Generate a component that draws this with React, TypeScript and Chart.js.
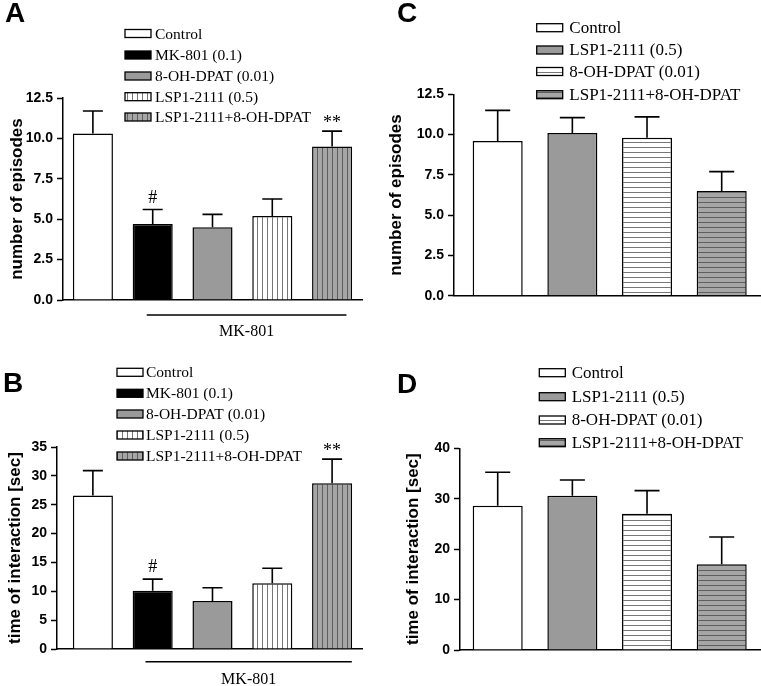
import React, { useEffect, useRef } from "react";
import { Chart, registerables } from "chart.js";

Chart.register(...registerables);

// ---------------- data ----------------
const groupsMK = ["Control", "MK-801 (0.1)", "8-OH-DPAT (0.01)", "LSP1-2111 (0.5)", "LSP1-2111+8-OH-DPAT"];
const groupsLSP = ["Control", "LSP1-2111 (0.5)", "8-OH-DPAT (0.01)", "LSP1-2111+8-OH-DPAT"];

const episodesA = [10.3, 4.7, 4.5, 5.2, 9.5];
const episodesASem = [1.4, 0.9, 0.8, 1.05, 0.95];
const timeB = [26.6, 10.1, 8.3, 11.4, 28.7];
const timeBSem = [4.3, 2.0, 2.3, 2.6, 4.2];
const episodesC = [9.6, 10.1, 9.8, 6.5];
const episodesCSem = [1.9, 0.95, 1.3, 1.2];
const timeD = [28.6, 30.6, 27.0, 17.0];
const timeDSem = [6.65, 3.1, 4.6, 5.4];

const marksMK = ["", "#", "", "", "**"];
const ticksEpisodes = [0, 2.5, 5, 7.5, 10, 12.5];
const ticksTimeB = [0, 5, 10, 15, 20, 25, 30, 35];
const ticksTimeD = [0, 10, 20, 30, 40];
const titleEpisodes = "number of episodes";
const titleTime = "time of interaction [sec]";
const bracketLabel = "MK-801";

// ---------------- layout / styles ----------------
type Panel = {
  letter: string;
  labels: string[];
  means: number[];
  sem: number[];
  marks?: string[];
  ticks: number[];
  decimals: number;
  title: string;
  styles: string[];
  left: number;
  top: number;
  width: number;
  height: number;
  area: { l: number; t: number; r: number; b: number };
  xMin: number;
  xMax: number;
  titleX: number;
  letterPos: [number, number];
  legend: { sx: number; tx: number; rows: number[]; size: number };
  bracket?: { from: number; to: number; y: number; textY: number };
};

const stylesMK = ["white", "black", "gray", "vstripe", "grayvstripe"];
const stylesLSP = ["white", "gray", "hstripe", "grayhstripe"];

const panels: Panel[] = [
  {
    letter: "A", labels: groupsMK, means: episodesA, sem: episodesASem, marks: marksMK,
    ticks: ticksEpisodes, decimals: 1, title: titleEpisodes, styles: stylesMK,
    left: 0, top: 0, width: 380, height: 343,
    area: { l: 63, t: 98, r: 362, b: 300 }, xMin: -0.5, xMax: 4.5,
    titleX: 17, letterPos: [5, 22],
    legend: { sx: 125, tx: 155, rows: [33.5, 55, 76, 96.7, 117], size: 15.5 },
    bracket: { from: 0.9, to: 4.24, y: 315, textY: 336 },
  },
  {
    letter: "B", labels: groupsMK, means: timeB, sem: timeBSem, marks: marksMK,
    ticks: ticksTimeB, decimals: 0, title: titleTime, styles: stylesMK,
    left: 0, top: 343, width: 380, height: 343,
    area: { l: 57, t: 104, r: 362, b: 306 }, xMin: -0.6, xMax: 4.5,
    titleX: 15, letterPos: [3, 49],
    legend: { sx: 117, tx: 146, rows: [29.3, 50.3, 71, 92, 113], size: 15.5 },
    bracket: { from: 0.88, to: 4.33, y: 318.7, textY: 341 },
  },
  {
    letter: "C", labels: groupsLSP, means: episodesC, sem: episodesCSem,
    ticks: ticksEpisodes, decimals: 1, title: titleEpisodes, styles: stylesLSP,
    left: 380, top: 0, width: 381, height: 343,
    area: { l: 74, t: 94.3, r: 380, b: 295.7 }, xMin: -0.585, xMax: 3.513,
    titleX: 16.7, letterPos: [17, 22],
    legend: { sx: 156.7, tx: 189.3, rows: [27.7, 50, 71.5, 94.7], size: 17 },
  },
  {
    letter: "D", labels: groupsLSP, means: timeD, sem: timeDSem,
    ticks: ticksTimeD, decimals: 0, title: titleTime, styles: stylesLSP,
    left: 380, top: 343, width: 381, height: 343,
    area: { l: 80, t: 105.3, r: 380, b: 307 }, xMin: -0.505, xMax: 3.513,
    titleX: 33, letterPos: [17, 50],
    legend: { sx: 159.3, tx: 191.7, rows: [29.7, 53.7, 77, 99.7], size: 17 },
  },
];

function makeFill(style: string, ctx: CanvasRenderingContext2D): string | CanvasPattern {
  if (style === "white") return "#ffffff";
  if (style === "black") return "#000000";
  if (style === "gray") return "#9a9a9a";
  const c = document.createElement("canvas");
  const vertical = style.endsWith("vstripe");
  const grayBase = style.startsWith("gray");
  c.width = vertical ? 5 : 1;
  c.height = vertical ? 1 : 5;
  const g = c.getContext("2d")!;
  g.fillStyle = grayBase ? "#a6a6a6" : "#ffffff";
  g.fillRect(0, 0, c.width, c.height);
  g.fillStyle = grayBase ? "#5e5e5e" : "#777777";
  if (vertical) g.fillRect(2, 0, 1, 1);
  else g.fillRect(0, 2, 1, 1);
  return ctx.createPattern(c, "repeat") as CanvasPattern;
}

function makeOverlay(p: Panel, fills: (string | CanvasPattern)[]) {
  return {
    id: "overlay" + p.letter,
    afterDraw(chart: any) {
      const ctx: CanvasRenderingContext2D = chart.ctx;
      const xs = chart.scales.x;
      const ys = chart.scales.y;
      const meta = chart.getDatasetMeta(0);
      ctx.save();
      ctx.strokeStyle = "#000";
      ctx.lineWidth = 1.6;
      // error bars + significance marks
      p.means.forEach((m, i) => {
        const bar: any = meta.data[i];
        const cx = bar.x;
        const top = ys.getPixelForValue(m);
        const end = ys.getPixelForValue(m + p.sem[i]);
        const half = bar.width / 4;
        ctx.beginPath();
        ctx.moveTo(cx, top);
        ctx.lineTo(cx, end);
        ctx.moveTo(cx - half, end);
        ctx.lineTo(cx + half, end);
        ctx.stroke();
        const mark = p.marks ? p.marks[i] : "";
        if (mark) {
          ctx.fillStyle = "#000";
          ctx.font = '18px "Liberation Serif"';
          ctx.textAlign = "center";
          ctx.textBaseline = "alphabetic";
          ctx.fillText(mark, cx, mark === "#" ? end - 7 : end - 3);
        }
      });
      // bracket
      if (p.bracket) {
        const x0 = xs.getPixelForValue(p.bracket.from);
        const x1 = xs.getPixelForValue(p.bracket.to);
        ctx.beginPath();
        ctx.moveTo(x0, p.bracket.y);
        ctx.lineTo(x1, p.bracket.y);
        ctx.stroke();
        ctx.fillStyle = "#000";
        ctx.font = '16px "Liberation Serif"';
        ctx.textAlign = "center";
        ctx.textBaseline = "alphabetic";
        ctx.fillText(bracketLabel, (x0 + x1) / 2, p.bracket.textY);
      }
      // legend
      p.labels.forEach((label, i) => {
        const y = p.legend.rows[i];
        const sw = 26, sh = 8;
        ctx.fillStyle = fills[i] as any;
        ctx.fillRect(p.legend.sx, y - sh / 2, sw, sh);
        ctx.lineWidth = 1.3;
        ctx.strokeStyle = "#000";
        ctx.strokeRect(p.legend.sx, y - sh / 2, sw, sh);
        ctx.fillStyle = "#000";
        ctx.font = `${p.legend.size}px "Liberation Serif"`;
        ctx.textAlign = "left";
        ctx.textBaseline = "middle";
        ctx.fillText(label, p.legend.tx, y + 1);
      });
      // panel letter
      ctx.fillStyle = "#000";
      ctx.font = 'bold 28px "Liberation Sans"';
      ctx.textAlign = "left";
      ctx.textBaseline = "alphabetic";
      ctx.fillText(p.letter, p.letterPos[0], p.letterPos[1]);
      ctx.restore();
    },
  };
}

function PanelChart({ p }: { p: Panel }) {
  const ref = useRef<HTMLCanvasElement | null>(null);
  useEffect(() => {
    const canvas = ref.current!;
    const ctx = canvas.getContext("2d")!;
    const fills = p.styles.map((s) => makeFill(s, ctx));
    const tickFont = { family: "Liberation Sans", size: 14, weight: "bold" as const };
    const chart = new Chart(canvas, {
      type: "bar",
      data: {
        datasets: [
          {
            data: p.means.map((v, i) => ({ x: i, y: v })),
            backgroundColor: fills as any,
            borderColor: "#000",
            borderWidth: 1.5,
            borderSkipped: "bottom",
            barPercentage: 0.67,
            categoryPercentage: 1,
          },
        ],
      },
      options: {
        responsive: false,
        animation: false,
        events: [],
        layout: {
          padding: { left: 0, top: p.area.t, right: p.width - p.area.r, bottom: p.height - p.area.b },
        },
        plugins: { legend: { display: false }, tooltip: { enabled: false }, title: { display: false } },
        scales: {
          x: {
            type: "linear",
            min: p.xMin,
            max: p.xMax,
            offset: false,
            ticks: { display: false },
            grid: { display: false, offset: false },
            border: { display: true, color: "#000", width: 1.5 },
            afterBuildTicks: (s: any) => {
              s.ticks = p.means.map((_, i) => ({ value: i }));
            },
            afterFit: (s: any) => {
              s.height = 0;
            },
          },
          y: {
            type: "linear",
            min: 0,
            max: p.ticks[p.ticks.length - 1],
            afterBuildTicks: (s: any) => {
              s.ticks = p.ticks.map((v) => ({ value: v }));
            },
            afterFit: (s: any) => {
              s.width = p.area.l;
            },
            ticks: {
              color: "#000",
              font: tickFont,
              padding: 4,
              callback: (v: any) => Number(v).toFixed(p.decimals),
            },
            grid: {
              display: true,
              drawOnChartArea: false,
              drawTicks: true,
              tickLength: 6,
              tickColor: "#000",
              tickWidth: 1.5,
              color: "#000",
            },
            border: { display: true, color: "#000", width: 1.5 },
            title: {
              display: true,
              text: p.title,
              color: "#000",
              font: { family: "Liberation Sans", size: 17, weight: "bold" },
              padding: { top: p.titleX - 10.2, bottom: 0 },
            },
          },
        },
      } as any,
      plugins: [makeOverlay(p, fills)],
    });
    return () => chart.destroy();
  }, [p]);
  return (
    <canvas
      ref={ref}
      width={p.width}
      height={p.height}
      style={{ position: "absolute", left: p.left, top: p.top, width: p.width, height: p.height }}
    />
  );
}

export default function App() {
  return (
    <div style={{ position: "absolute", left: 0, top: 0, width: 761, height: 686, background: "#fff" }}>
      {panels.map((p) => (
        <PanelChart key={p.letter} p={p} />
      ))}
    </div>
  );
}
